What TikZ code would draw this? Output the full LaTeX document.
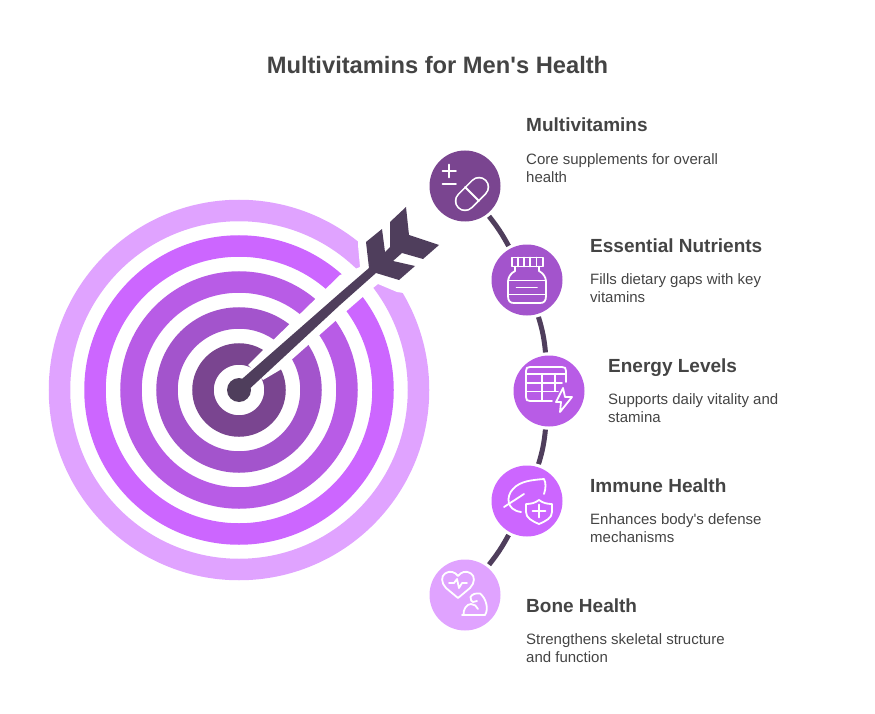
\documentclass[tikz,border=0pt]{standalone}
\usepackage{fontspec}
\setmainfont{Liberation Sans}[Ligatures=TeXOff]
\definecolor{inkdark}{HTML}{4F3E5C}
\definecolor{textgrey}{HTML}{444444}
\definecolor{tone1}{HTML}{7A4590}
\definecolor{tone2}{HTML}{A354CC}
\definecolor{tone3}{HTML}{B85CE6}
\definecolor{tone4}{HTML}{CC66FF}
\definecolor{tone5}{HTML}{E0A3FF}
\tikzset{
    ring/.style={line width=21.5pt},
    badge/.style={circle,inner sep=0pt,minimum size=71pt},
    link/.style={draw=inkdark,line width=5pt,shorten <=3pt,shorten >=3pt},
    icon/.style={draw=white,line width=1.8pt,line join=round,line cap=round},
    heading/.style={anchor=base west,inner sep=0pt,text=textgrey,font=\fontsize{19}{22}\selectfont\bfseries},
    body/.style={anchor=north west,inner sep=0pt,align=left,text=textgrey,font=\fontsize{15}{18}\selectfont}
}
\begin{document}
\begin{tikzpicture}[x=1pt,y=-1pt]
    \useasboundingbox (0,0) rectangle (875,714);

    \node[inner sep=0pt,text=textgrey,font=\fontsize{23.7}{28}\selectfont\bfseries] (title) at (437.5,65) {Multivitamins for Men's Health};

    % target
    \draw[ring,tone5] (239,390) circle [radius=179.5pt];
    \draw[ring,tone4] (239,390) circle [radius=144pt];
    \draw[ring,tone3] (239,390) circle [radius=108pt];
    \draw[ring,tone2] (239,390) circle [radius=72pt];
    \draw[ring,tone1] (239,390) circle [radius=36pt];

    % gap cut out for the arrow
    \fill[white] (248,365)--(263,350)--(340,275)--(360,267)--(358,245)--(358,190)--(450,190)--(450,300)
        --(397,292)--(378,284)--(373,288)--(350,308)--(280,370)--(263,380)--cycle;

    % arrow
    \fill[inkdark] (234,386)--(340,293)--(369,268)--(366,242)--(382,229)--(385,252)--(390,247)--(390,222)--(406,207)
        --(409,235)--(439,245)--(423,259)--(402,253)--(393,261)--(415,266)--(399,280)--(376,273)--(340,305)--(244,394)--cycle;
    \fill[inkdark] (239,390) circle [radius=12pt];

    % badges
    \node[badge,fill=tone1] (vit) at (465,186) {};
    \node[badge,fill=tone2] (nutr) at (527,280) {};
    \node[badge,fill=tone3] (energy) at (549,391) {};
    \node[badge,fill=tone4] (immune) at (527,501) {};
    \node[badge,fill=tone5] (bone) at (465,595) {};

    \draw[link] (vit) to[bend left=5] (nutr);
    \draw[link] (nutr) to[bend left=6] (energy);
    \draw[link] (energy) to[bend left=6] (immune);
    \draw[link] (immune) to[bend left=5] (bone);

    % pill
    \draw[icon] (442.5,171)--(456,171);
    \draw[icon] (449,164.5)--(449,177.5);
    \draw[icon] (442.5,184)--(456,184);
    \draw[white,line width=20.5pt,line cap=round] (465,201)--(479,187);
    \draw[tone1,line width=17pt,line cap=round] (465,201)--(479,187);
    \draw[icon] (465,187)--(479,201);

    % jar
    \draw[icon] (512,257.5) rectangle (543,266.5);
    \draw[icon] (518,257.5)--(518,266.5);
    \draw[icon] (524,257.5)--(524,266.5);
    \draw[icon] (530,257.5)--(530,266.5);
    \draw[icon] (536.5,257.5)--(536.5,266.5);
    \draw[icon] (515,266.5)--(515,271)..controls (511,273) and (508,277)..(508,282)--(508,296)
        ..controls (508,301) and (510,303)..(514,303)--(540,303)..controls (544,303) and (546,301)..(546,296)
        --(546,282)..controls (546,277) and (543,273)..(539,271)--(539,266.5);
    \draw[icon] (508,280.5)--(546,280.5);
    \draw[icon] (508,294.5)--(546,294.5);
    \draw[icon] (516.5,287.5)--(537,287.5);

    % table with bolt
    \draw[icon] (552,401)--(530,401)..controls (527,401) and (526,400)..(526,397)--(526,371)
        ..controls (526,368) and (527,367)..(530,367)--(562,367)..controls (565,367) and (566,368)..(566,371)--(566,382);
    \draw[icon] (526,374)--(566,374);
    \draw[icon] (526,383)--(562,383);
    \draw[icon] (526,391.5)--(558,391.5);
    \draw[icon] (542,374)--(542,401);
    \draw[icon] (555,374)--(555,391);
    \draw[icon] (563,388)--(556,402)--(561,402)--(560,412)--(572,397)--(565,397)--cycle;

    % leaf with shield
    \draw[icon] (504,507)--(524,494);
    \draw[icon] (544,494)..controls (546,488) and (546,483)..(544,479)..controls (532,480) and (520,481)..(513,489)
        ..controls (506,496) and (506,510)..(521,512);
    \draw[icon] (539,500)..controls (535,503) and (531,504)..(526,504)--(526,512)
        ..controls (526,518) and (532,521)..(539,524)..controls (546,521) and (552,518)..(552,512)--(552,504)
        ..controls (547,504) and (543,503)..(539,500)--cycle;
    \draw[icon] (532.5,511)--(545.5,511);
    \draw[icon] (539,504.5)--(539,517.5);

    % heart with arm
    \draw[icon] (458,598)--(446,588)..controls (441,583) and (441,576)..(445,573.5)..controls (450,570) and (455,572)..(458,576)
        ..controls (461,572) and (466,570)..(471,573.5)..controls (475,576) and (475,583)..(470,588)--cycle;
    \draw[icon] (449,583)--(454,583)--(457,579)--(459,588)--(462,583)--(467,583);
    \draw[icon] (462,615)--(485,615)..controls (489,609) and (486,598)..(480,593.5)..controls (476,593) and (472,594)..(470.5,597)
        ..controls (470,600) and (472,602)..(473,602)--(477,601);
    \draw[icon] (463.5,615)..controls (463,609) and (467,604)..(471,604)..controls (474,604) and (477,606)..(478,609);

    % labels
    \node[heading] (vithead) at (526,132) {Multivitamins};
    \node[body] (vittext) at (526,153) {Core supplements for overall\\health};

    \node[heading] (nutrhead) at (590,252) {Essential Nutrients};
    \node[body] (nutrtext) at (590,273) {Fills dietary gaps with key\\vitamins};

    \node[heading] (energyhead) at (608,372) {Energy Levels};
    \node[body] (energytext) at (608,393) {Supports daily vitality and\\stamina};

    \node[heading] (immunehead) at (590,492) {Immune Health};
    \node[body] (immunetext) at (590,513) {Enhances body's defense\\mechanisms};

    \node[heading] (bonehead) at (526,612) {Bone Health};
    \node[body] (bonetext) at (526,633) {Strengthens skeletal structure\\and function};
\end{tikzpicture}
\end{document}
